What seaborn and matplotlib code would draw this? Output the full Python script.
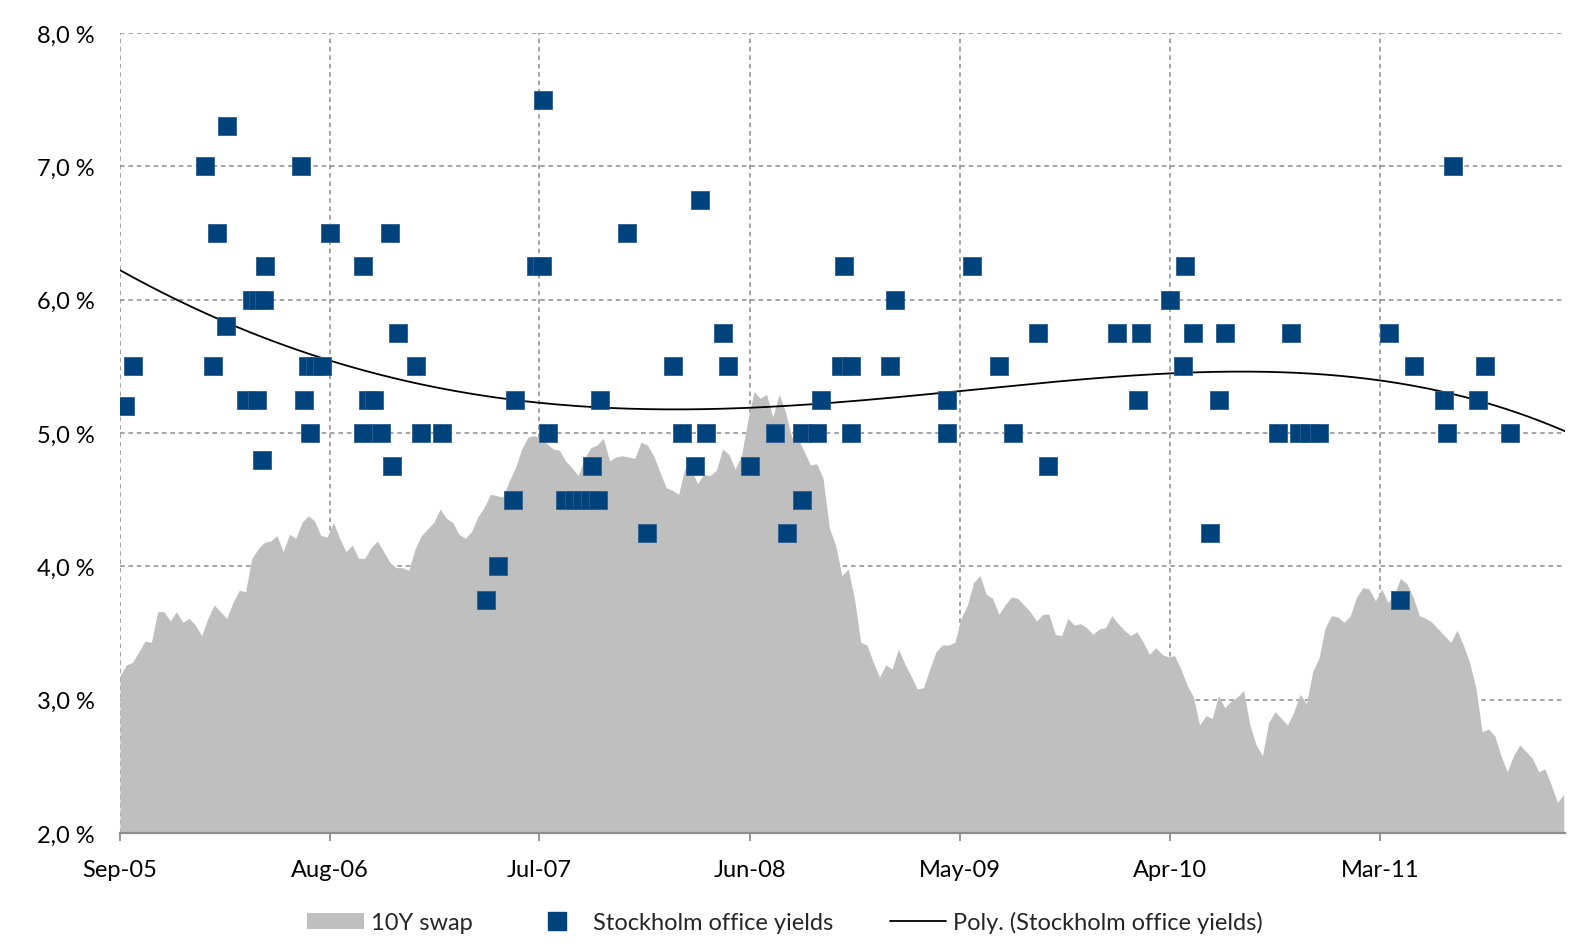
import numpy as np
import pandas as pd
import matplotlib
matplotlib.use("Agg")
import matplotlib.pyplot as plt
import matplotlib.dates as mdates
import seaborn as sns
from matplotlib.patches import Patch
from matplotlib.lines import Line2D
from matplotlib.ticker import FuncFormatter, FixedLocator

# ---------------- data ----------------
swap_start = "2005-09-01"
swap_step_days = 10
swap_values = [
    3.18, 3.26, 3.28, 3.36, 3.44, 3.43, 3.66, 3.66, 3.59, 3.66,
    3.58, 3.61, 3.56, 3.48, 3.61, 3.71, 3.66, 3.61, 3.73, 3.82,
    3.81, 4.06, 4.13, 4.18, 4.19, 4.23, 4.11, 4.24, 4.21, 4.33,
    4.38, 4.34, 4.23, 4.22, 4.33, 4.21, 4.11, 4.16, 4.06, 4.06,
    4.14, 4.19, 4.11, 4.03, 3.99, 3.99, 3.97, 4.13, 4.23, 4.28,
    4.33, 4.43, 4.36, 4.33, 4.24, 4.21, 4.26, 4.37, 4.44, 4.54,
    4.53, 4.52, 4.64, 4.74, 4.88, 4.97, 4.98, 4.96, 4.92, 4.88,
    4.87, 4.79, 4.74, 4.68, 4.81, 4.89, 4.91, 4.96, 4.79, 4.82,
    4.83, 4.82, 4.81, 4.93, 4.91, 4.83, 4.71, 4.59, 4.57, 4.54,
    4.74, 4.73, 4.62, 4.69, 4.68, 4.72, 4.88, 4.84, 4.73, 4.83,
    5.09, 5.31, 5.26, 5.29, 5.12, 5.29, 5.16, 4.97, 4.96, 4.86,
    4.76, 4.77, 4.66, 4.29, 4.16, 3.93, 3.98, 3.76, 3.43, 3.41,
    3.28, 3.17, 3.26, 3.23, 3.38, 3.27, 3.18, 3.08, 3.09, 3.23,
    3.36, 3.41, 3.41, 3.43, 3.61, 3.71, 3.88, 3.93, 3.79, 3.76,
    3.64, 3.71, 3.77, 3.76, 3.71, 3.66, 3.59, 3.64, 3.64, 3.49,
    3.48, 3.61, 3.56, 3.57, 3.54, 3.49, 3.53, 3.54, 3.63, 3.57,
    3.52, 3.48, 3.51, 3.43, 3.34, 3.39, 3.34, 3.32, 3.33, 3.23,
    3.11, 3.02, 2.81, 2.88, 2.86, 3.03, 2.94, 2.99, 3.02, 3.07,
    2.81, 2.66, 2.58, 2.83, 2.91, 2.86, 2.81, 2.91, 3.04, 2.97,
    3.21, 3.31, 3.54, 3.63, 3.62, 3.58, 3.63, 3.77, 3.84, 3.83,
    3.74, 3.83, 3.73, 3.79, 3.91, 3.87, 3.77, 3.63, 3.61, 3.58,
    3.53, 3.48, 3.43, 3.52, 3.41, 3.28, 3.09, 2.76, 2.78, 2.73,
    2.58, 2.46, 2.58, 2.66, 2.61, 2.56, 2.46, 2.48, 2.36, 2.23,
    2.29,
]

office_dates = [
    "2005-09-09", "2005-09-22", "2006-01-14", "2006-01-27", "2006-02-03",
    "2006-02-17", "2006-02-18", "2006-03-21", "2006-03-30", "2006-04-07",
    "2006-04-09", "2006-04-15", "2006-04-18", "2006-04-20", "2006-06-16",
    "2006-06-21", "2006-06-28", "2006-07-01", "2006-07-09", "2006-07-20",
    "2006-08-02", "2006-09-23", "2006-09-23", "2006-10-01", "2006-10-11",
    "2006-10-22", "2006-11-05", "2006-11-08", "2006-11-18", "2006-12-17",
    "2006-12-25", "2007-01-27", "2007-04-07", "2007-04-26", "2007-05-20",
    "2007-05-24", "2007-06-26", "2007-07-06", "2007-07-07", "2007-07-15",
    "2007-08-11", "2007-08-26", "2007-09-07", "2007-09-20", "2007-09-23",
    "2007-10-03", "2007-10-06", "2007-11-18", "2007-12-20", "2008-01-30",
    "2008-02-14", "2008-03-05", "2008-03-13", "2008-03-23", "2008-04-19",
    "2008-04-27", "2008-06-01", "2008-07-11", "2008-07-30", "2008-08-23",
    "2008-08-23", "2008-09-16", "2008-09-21", "2008-10-23", "2008-10-29",
    "2008-11-08", "2008-11-09", "2009-01-10", "2009-01-18", "2009-04-11",
    "2009-04-11", "2009-05-21", "2009-07-03", "2009-07-25", "2009-09-03",
    "2009-09-18", "2010-01-07", "2010-02-08", "2010-02-14", "2010-03-31",
    "2010-04-22", "2010-04-24", "2010-05-08", "2010-06-04", "2010-06-17",
    "2010-06-27", "2010-09-19", "2010-10-10", "2010-10-23", "2010-11-08",
    "2010-11-24", "2011-03-16", "2011-04-02", "2011-04-24", "2011-06-12",
    "2011-06-16", "2011-06-25", "2011-08-04", "2011-08-15", "2011-09-24",
]
office_yields = [
    5.20, 5.50, 7.00, 5.50, 6.50, 5.80, 7.30, 5.25, 6.00, 5.25,
    6.00, 4.80, 6.00, 6.25, 7.00, 5.25, 5.50, 5.00, 5.50, 5.50,
    6.50, 6.25, 5.00, 5.25, 5.25, 5.00, 6.50, 4.75, 5.75, 5.50,
    5.00, 5.00, 3.75, 4.00, 4.50, 5.25, 6.25, 6.25, 7.50, 5.00,
    4.50, 4.50, 4.50, 4.50, 4.75, 4.50, 5.25, 6.50, 4.25, 5.50,
    5.00, 4.75, 6.75, 5.00, 5.75, 5.50, 4.75, 5.00, 4.25, 4.50,
    5.00, 5.00, 5.25, 5.50, 6.25, 5.00, 5.50, 5.50, 6.00, 5.25,
    5.00, 6.25, 5.50, 5.00, 5.75, 4.75, 5.75, 5.25, 5.75, 6.00,
    5.50, 6.25, 5.75, 4.25, 5.25, 5.75, 5.00, 5.75, 5.00, 5.00,
    5.00, 5.75, 3.75, 5.50, 5.25, 5.00, 7.00, 5.25, 5.50, 5.00,
]

tick_dates = ["2005-09-01", "2006-08-01", "2007-07-01", "2008-06-01",
              "2009-05-01", "2010-04-01", "2011-03-01"]
x_end = "2011-12-21"
y_ticks = [2.0, 3.0, 4.0, 5.0, 6.0, 7.0, 8.0]
legend_labels = ["10Y swap", "Stockholm office yields",
                 "Poly. (Stockholm office yields)"]
poly_order = 4

# ---------------- style ----------------
swap_color = "#bfbfbf"
office_color = "#00427c"
grid_color = "#8c8c8c"
FS = 17

sns.set_theme(style="white")
plt.rcParams["font.family"] = ["Lato", "DejaVu Sans"]

W, H = 1570, 945
fig = plt.figure(figsize=(W / 100, H / 100), dpi=100)
ax = fig.add_axes([120 / W, 1 - 834 / H, 1445 / W, 800 / H])

swap_dates = pd.date_range(swap_start, periods=len(swap_values),
                           freq=f"{swap_step_days}D")
ax.fill_between(swap_dates, y_ticks[0], swap_values, color=swap_color,
                lw=0, zorder=1)

# polynomial trendline over the full axis range
od = pd.to_datetime(office_dates)
xnum = mdates.date2num(od)
x0 = mdates.date2num(pd.Timestamp(tick_dates[0]))
x1 = mdates.date2num(pd.Timestamp(x_end))
coef = np.polyfit((xnum - x0) / 365.0, office_yields, poly_order)
xs = np.linspace(x0, x1, 400)
ys = np.polyval(coef, (xs - x0) / 365.0)
trend = pd.DataFrame({"date": mdates.num2date(xs), "val": ys})
sns.lineplot(data=trend, x="date", y="val", color="black", lw=1.3,
             ax=ax, zorder=2)

sns.scatterplot(x=od, y=office_yields, marker="s", s=175,
                color=office_color, edgecolor="#2c5d8f", linewidth=0.6,
                ax=ax, zorder=3)

ax.set_xlim(pd.Timestamp(tick_dates[0]), pd.Timestamp(x_end))
ax.set_ylim(y_ticks[0], y_ticks[-1])
ax.set_xlabel("")
ax.set_ylabel("")

ax.xaxis.set_major_locator(FixedLocator(mdates.date2num(pd.to_datetime(tick_dates))))
ax.xaxis.set_major_formatter(mdates.DateFormatter("%b-%y"))
ax.yaxis.set_major_locator(FixedLocator(y_ticks))
ax.yaxis.set_major_formatter(FuncFormatter(lambda v, p: f"{v:.1f}".replace(".", ",") + " %"))

ax.set_axisbelow(True)
ax.grid(True, axis="both", color=grid_color, linestyle=(0, (3, 2.5)),
        linewidth=1.1, zorder=0)

for s in ["top", "right", "left"]:
    ax.spines[s].set_visible(False)
ax.spines["bottom"].set_color("#8c8c8c")
ax.spines["bottom"].set_linewidth(1.6)
ax.spines["bottom"].set_zorder(4)

ax.tick_params(axis="x", length=6, width=1.3, color="#8c8c8c", pad=13,
               labelsize=FS, labelcolor="black", bottom=True)
ax.tick_params(axis="y", length=0, pad=18, labelsize=FS, labelcolor="black")

handles = [
    Patch(facecolor=swap_color, edgecolor="none"),
    Line2D([], [], marker="s", linestyle="None", markersize=13,
           color=office_color),
    Line2D([], [], color="black", lw=1.3),
]
fig.legend(handles, legend_labels, loc="center",
           bbox_to_anchor=(0.5, 1 - 923 / H), ncol=3, frameon=False,
           fontsize=FS, handlelength=2.4, handletextpad=0.3,
           columnspacing=2.4)

fig.savefig("out.png", dpi=100)
